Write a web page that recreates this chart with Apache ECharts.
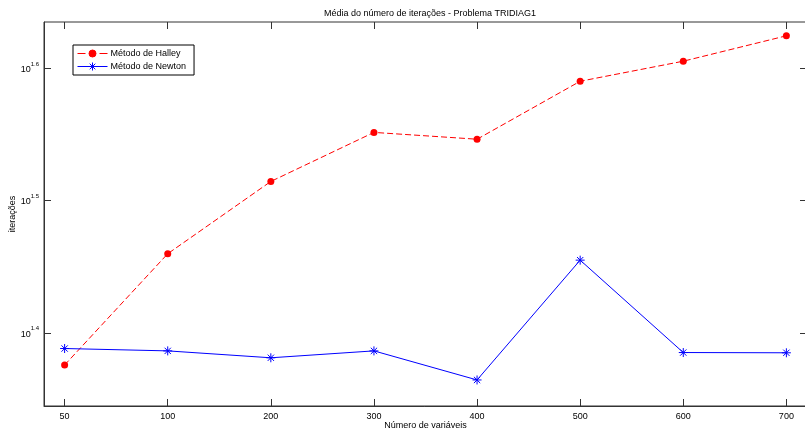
<!DOCTYPE html>
<html>
<head>
<meta charset="utf-8">
<script src="https://cdn.jsdelivr.net/npm/echarts@6/dist/echarts.min.js"></script>
<style>
  html, body { margin: 0; padding: 0; background: #fff; }
  #chart { width: 805px; height: 431px; }
</style>
</head>
<body>
<div id="chart"></div>
<script>
// Problem sizes (number of variables) along the x axis
const categories = ['50', '100', '200', '300', '400', '500', '600', '700'];
// Average number of iterations per method
const halley = [23.75, 28.82, 32.68, 35.59, 35.17, 38.9, 40.28, 42.1];
const newton = [24.44, 24.34, 24.05, 24.34, 23.14, 28.5, 24.27, 24.26];
// Decade exponents shown on the logarithmic y axis
const yTickExponents = [1.4, 1.5, 1.6];

const positions = categories.map((c, i) => i + 1);
const toPoints = vals => vals.map((v, i) => [positions[i], Math.log10(v)]);

const FONT = 'Liberation Sans, Arial, sans-serif';
const AXIS_COLOR = '#333';
const RED = '#ff0000';
const BLUE = '#0000ff';
const asterisk = 'path://M0,5L10,5M5,0L5,10M1.5,1.5L8.5,8.5M1.5,8.5L8.5,1.5';
// Legend keys: line sample with the marker in its middle
const halleyKey = 'path://M0,5L8,5M22,5L30,5M18.5,5A3.5,3.5,0,1,1,11.5,5A3.5,3.5,0,1,1,18.5,5Z';
const newtonKey = 'path://M0,5L30,5M11,5L19,5M15,1L15,9M12.2,2.2L17.8,7.8M12.2,7.8L17.8,2.2';

const chart = echarts.init(document.getElementById('chart'), null, { renderer: 'canvas' });

const tickCommon = { show: true, inside: true, length: 7, lineStyle: { color: AXIS_COLOR, width: 1 } };

chart.setOption({
  animation: false,
  backgroundColor: '#fff',
  textStyle: { fontFamily: FONT },
  title: {
    text: 'Média do número de iterações - Problema TRIDIAG1',
    left: 425, top: 4, textAlign: 'center',
    textStyle: { fontFamily: FONT, fontSize: 9, fontWeight: 'normal', color: '#000' }
  },
  grid: {
    left: 44, top: 22, width: 763, height: 384,
    outerBoundsMode: 'none', containLabel: false,
    show: true, borderColor: AXIS_COLOR, borderWidth: 1, backgroundColor: '#fff'
  },
  legend: {
    left: 73, top: 45, orient: 'vertical',
    backgroundColor: '#fff', borderColor: '#000', borderWidth: 1,
    padding: [4, 8, 4, 4], itemGap: 4, itemWidth: 30, itemHeight: 9,
    textStyle: { fontFamily: FONT, fontSize: 9, color: '#000', padding: [0, 0, 0, -2] },
    data: [
      { name: 'Método de Halley', icon: halleyKey,
        itemStyle: { color: RED, borderColor: RED, borderWidth: 1 } },
      { name: 'Método de Newton', icon: newtonKey,
        itemStyle: { color: BLUE, borderColor: BLUE, borderWidth: 1 } }
    ]
  },
  xAxis: [{
    type: 'value', min: 0.8, max: 8.2, position: 'bottom',
    name: 'Número de variáveis', nameLocation: 'middle', nameGap: 15,
    nameMoveOverlap: false,
    nameTextStyle: { fontFamily: FONT, fontSize: 9, color: '#000' },
    axisLine: { show: true, lineStyle: { color: AXIS_COLOR } },
    axisTick: Object.assign({ customValues: positions }, tickCommon),
    axisLabel: {
      customValues: positions, margin: 6,
      fontFamily: FONT, fontSize: 9, color: '#000',
      formatter: v => categories[Math.round(v) - 1] || ''
    },
    splitLine: { show: false }
  }, {
    type: 'value', min: 0.8, max: 8.2, position: 'top',
    axisLine: { show: false },
    axisTick: Object.assign({ customValues: positions }, tickCommon),
    axisLabel: { show: false },
    splitLine: { show: false }
  }],
  yAxis: [{
    type: 'value', min: 1.3447, max: 1.6347, position: 'left',
    name: 'iterações', nameLocation: 'middle', nameGap: 27, nameRotate: 90,
    nameMoveOverlap: false,
    nameTextStyle: { fontFamily: FONT, fontSize: 9, color: '#000' },
    axisLine: { show: true, lineStyle: { color: AXIS_COLOR } },
    axisTick: Object.assign({ customValues: yTickExponents }, tickCommon),
    axisLabel: {
      customValues: yTickExponents, margin: 5,
      formatter: v => '{b|10}{s|' + v.toFixed(1) + '}',
      rich: {
        b: { fontFamily: FONT, fontSize: 9, color: '#000', padding: [3, 0, 0, 0] },
        s: { fontFamily: FONT, fontSize: 6, color: '#000', padding: [0, 0, 8, 0] }
      }
    },
    splitLine: { show: false }
  }, {
    type: 'value', min: 1.3447, max: 1.6347, position: 'right',
    axisLine: { show: false },
    axisTick: Object.assign({ customValues: yTickExponents }, tickCommon),
    axisLabel: { show: false },
    splitLine: { show: false }
  }],
  series: [{
    name: 'Método de Halley',
    type: 'line',
    data: toPoints(halley),
    symbol: 'circle', symbolSize: 7,
    itemStyle: { color: RED },
    lineStyle: { color: RED, width: 1, type: [6, 3] },
    z: 3
  }, {
    name: 'Método de Newton',
    type: 'line',
    data: toPoints(newton),
    symbol: asterisk, symbolSize: 9,
    itemStyle: { color: BLUE, borderColor: BLUE, borderWidth: 1 },
    lineStyle: { color: BLUE, width: 1 },
    z: 3
  }]
});
</script>
</body>
</html>
